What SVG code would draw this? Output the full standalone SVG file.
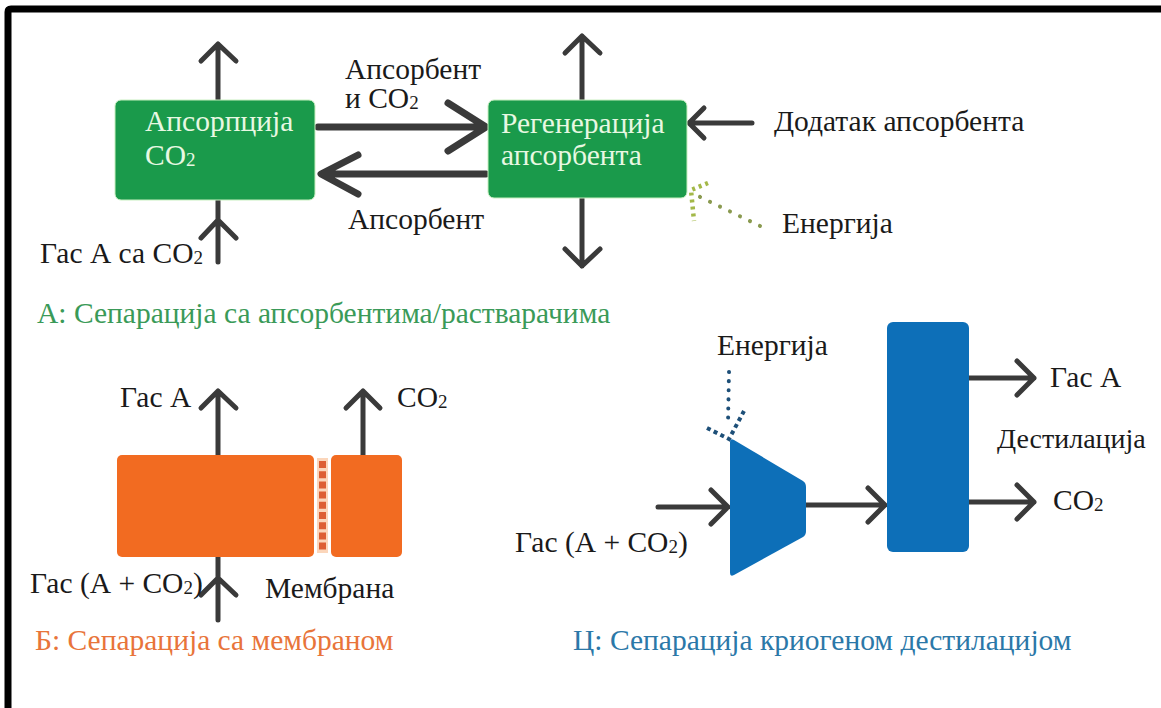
<svg xmlns="http://www.w3.org/2000/svg" width="1161" height="708" viewBox="0 0 1161 708">
<style>
text{font-family:"Liberation Serif","Times New Roman",serif;font-size:29.5px;fill:#1a1a1a}
.w{fill:#e8f8e2}
.cg{fill:#3a9a58}
.co{fill:#e8743a}
.cb{fill:#2b78a8}
.ln{stroke:#3a3a3a;stroke-width:5;fill:none;stroke-linecap:round;stroke-linejoin:round}
.lt{stroke:#3a3a3a;stroke-width:7;fill:none;stroke-linecap:round;stroke-linejoin:round}
.sub{font-size:19px}
</style>
<rect width="1161" height="708" fill="#fff"/>
<path d="M8 708 V12 Q8 9 11 9 H1161" fill="none" stroke="#000" stroke-width="7"/>
<g id="connectors">
<path class="ln" d="M218 100 V44 M201 61 L218 44 L236 61"/>
<path class="ln" d="M218 262 V200 M201 238 L218 220 L236 238"/>
<path class="lt" d="M318 127 H484 M448 103 L486 127 L448 151"/>
<path class="lt" d="M486 174 H322 M358 155 L321 174 L358 194"/>
<path class="ln" d="M582 100 V36 M565 53 L582 36 L600 53"/>
<path class="ln" d="M582 198 V266 M565 249 L582 266 L600 249"/>
<path class="ln" d="M752 123 H690 M704 108 L689 123 L704 138"/>
<path d="M760 226 L696 195" stroke="#8a9a50" stroke-width="4" stroke-dasharray="0.1 11" stroke-linecap="round" fill="none"/>
<path d="M708 183 L691 190 L694 221" stroke="#a3b848" stroke-width="4.5" stroke-dasharray="3 4" fill="none"/>
<path class="ln" d="M218 455 V391 M201 408 L218 391 L236 408"/>
<path class="ln" d="M363 455 V391 M346 408 L363 391 L380 408"/>
<path class="ln" d="M218 620 V557 M201 595 L218 578 L236 595"/>
<path class="ln" d="M658 507 H728 M711 490 L728 507 L711 524"/>
<path class="ln" d="M806 505 H885 M868 488 L885 505 L868 522"/>
<path class="ln" d="M969 378 H1034 M1017 361 L1034 378 L1017 395"/>
<path class="ln" d="M969 502 H1034 M1017 485 L1034 502 L1017 519"/>
<path d="M729 372 L728 423" stroke="#1d4f78" stroke-width="4" stroke-dasharray="0.1 9" stroke-linecap="round" fill="none"/>
<path d="M707 428 L729 439 L744 411" stroke="#1d4f78" stroke-width="4" stroke-dasharray="4 3.5" fill="none"/>
</g>
<g id="node-absorption">
<rect x="115" y="100" width="200" height="100" rx="6" fill="#1a9a4b" stroke="#c8efc0" stroke-width="1"/>
<text class="w" x="145" y="131">Апсорпција</text>
<text class="w" x="145" y="165">CO<tspan class="sub" dy="1">2</tspan></text>
</g>
<g id="node-regeneration">
<rect x="488" y="100" width="199" height="98" rx="6" fill="#1a9a4b" stroke="#c8efc0" stroke-width="1"/>
<text class="w" x="501" y="133">Регенерација</text>
<text class="w" x="501" y="165">апсорбента</text>
</g>
<g id="labels-a">
<text x="345" y="79">Апсорбент</text>
<text x="345" y="108">и CO<tspan class="sub" dy="1">2</tspan></text>
<text x="348" y="229">Апсорбент</text>
<text x="774" y="131">Додатак апсорбента</text>
<text x="782" y="233">Енергија</text>
<text x="40" y="263">Гас А са CO<tspan class="sub" dy="1">2</tspan></text>
<text class="cg" x="37" y="323">А: Сепарација са апсорбентима/растварачима</text>
</g>
<g id="node-membrane">
<rect x="117" y="455" width="197" height="102" rx="5" fill="#f26b21"/>
<rect x="331" y="455" width="71" height="102" rx="5" fill="#f26b21"/>
<rect x="317" y="458" width="11" height="95" fill="#fbd6bb"/>
<path d="M322.5 461 V551" stroke="#dd5f35" stroke-width="7" stroke-dasharray="7 3.2"/>
</g>
<g id="labels-b">
<text x="120" y="407">Гас А</text>
<text x="397" y="407">CO<tspan class="sub" dy="1">2</tspan></text>
<text x="30" y="593">Гас (А + CO<tspan class="sub" dy="1">2</tspan><tspan dy="-1">)</tspan></text>
<text x="265" y="598">Мембрана</text>
<text class="co" x="35" y="650">Б: Сепарација са мембраном</text>
</g>
<g id="node-compressor">
<path d="M730 442 Q730 438 734 440 L803 481 Q806 483 806 487 L806 531 Q806 535 803 537 L734 575 Q730 577 730 573 Z" fill="#0d6fb8"/>
</g>
<g id="node-column">
<rect x="887" y="322" width="82" height="230" rx="6" fill="#0d6fb8"/>
</g>
<g id="labels-c">
<text x="717" y="355">Енергија</text>
<text x="1050" y="387">Гас А</text>
<text x="997" y="448" style="font-size:28px">Дестилација</text>
<text x="1053" y="510">CO<tspan class="sub" dy="1">2</tspan></text>
<text x="515" y="552">Гас (А + CO<tspan class="sub" dy="1">2</tspan><tspan dy="-1">)</tspan></text>
<text class="cb" x="573" y="650">Ц: Сепарација криогеном дестилацијом</text>
</g>
</svg>
